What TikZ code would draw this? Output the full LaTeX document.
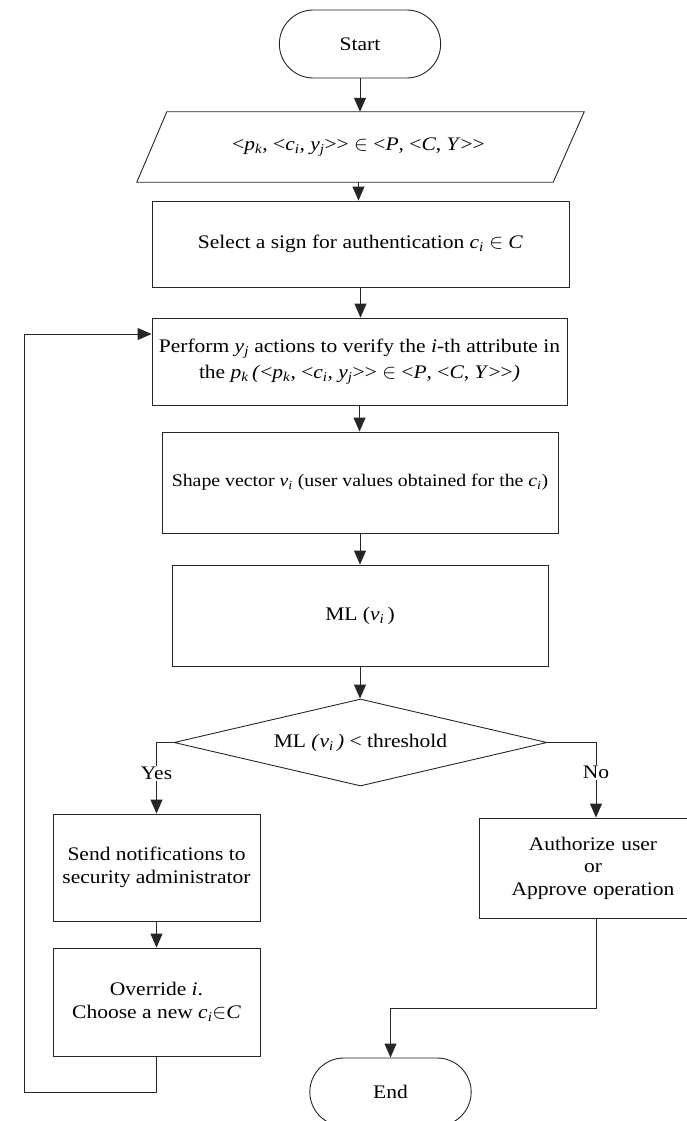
\documentclass[tikz,border=0pt]{standalone}
\usepackage{fontspec}
\setmainfont{Liberation Serif}[FakeStretch=1.12]
\usetikzlibrary{shapes.geometric,shapes.misc,arrows.meta}
\newcommand{\iv}[2]{\textit{#1}\textsubscript{\textit{#2}}}
\newcommand{\gtgt}{>\kern0pt>}
\begin{document}
\begin{tikzpicture}[x=1pt,y=-1pt,
  font=\fontsize{19.2}{22.5}\selectfont,
  line/.style={draw=black!85, line width=0.9pt},
  box/.style={line, align=center, inner sep=2pt},
  term/.style={line, rounded rectangle, minimum width=168pt, minimum height=68pt},
  arr/.style={line, -{Triangle[width=12pt,length=14pt]}},
  lab/.style={fill=white, inner sep=1pt}]
\useasboundingbox (0,0) rectangle (687,1121);
\node[term] (start) at (360,44) {Start};
\node[minimum width=447pt, minimum height=70pt, inner sep=0pt] (in) at (358.5,147)
  {<\iv{p}{k}, <\iv{c}{i}, \iv{y}{j}\gtgt{} $\in$ <\textit{P}, <\textit{C}, \textit{Y}\gtgt};
\draw[line] ([xshift=2pt]in.south west) -- ([xshift=-29pt]in.south east) -- ([xshift=2pt]in.north east)
  -- ([xshift=32pt]in.north west) -- cycle;
\node[box, minimum width=417pt, minimum height=86pt] (sel) at (360.5,244)
  {Select a sign for authentication \iv{c}{i} $\in$ \textit{C}};
\node[box, minimum width=415pt, minimum height=87pt, font=\fontsize{19.2}{26}\selectfont] (perf) at (359.5,361.5)
  {Perform \iv{y}{j} actions to verify the \textit{i}-th attribute in\\
   the \iv{p}{k}\,\textit{(}<\iv{p}{k}, <\iv{c}{i}, \iv{y}{j}\gtgt{} $\in$ <\textit{P}, <\textit{C}, \textit{Y}\gtgt\textit{)}};
\node[box, minimum width=396pt, minimum height=101pt, font=\fontsize{17.7}{21}\selectfont] (shape) at (360,482.5)
  {Shape vector \iv{v}{i} (user values obtained for the \iv{c}{i})};
\node[box, minimum width=376pt, minimum height=101pt] (ml) at (360,615.5) {ML (\iv{v}{i}\,)};
\node[line, diamond, shape aspect=4.3, minimum width=373pt, minimum height=87pt, inner sep=0pt] (dia)
  at (360.5,742.5) {ML \textit{(}\iv{v}{i}\,\textit{)} < threshold};
\node[box, minimum width=207pt, minimum height=107pt] (send) at (156.5,867.5)
  {Send notifications to\\security administrator};
\node[box, minimum width=207pt, minimum height=108pt] (over) at (156.5,1002)
  {Override \textit{i}.\\Choose a new \iv{c}{i}$\in$\textit{C}};
\node[box, minimum width=234pt, minimum height=100pt, text width=220pt] (auth) at (596,868)
  {\hspace*{-6pt}Authorize user\\\hspace*{-6pt}or\\\hspace*{-6pt}Approve operation};
\node[term] (end) at (390.5,1092) {End};
\coordinate (loop) at (24,1092);
\draw[arr] (start.south) -- (start.south |- in.north);
\draw[arr] (in.south) -- (in.south |- sel.north);
\draw[arr] (sel.south) -- (sel.south |- perf.north);
\draw[arr] (perf.south) -- (perf.south |- shape.north);
\draw[arr] (shape.south) -- (shape.south |- ml.north);
\draw[arr] (ml.south) -- (ml.south |- dia.north);
\draw[arr] (dia.west) -| node[lab, pos=0.72] {Yes} (send.north);
\draw[arr] (dia.east) -| node[lab, pos=0.7] {No} (auth.north);
\draw[arr] (send) -- (over);
\draw[arr] (over.south) |- (loop) |- ([yshift=27.5pt]perf.west);
\draw[arr] (auth.south) -- ++(0,90) -| (end.north);
\end{tikzpicture}
\end{document}
